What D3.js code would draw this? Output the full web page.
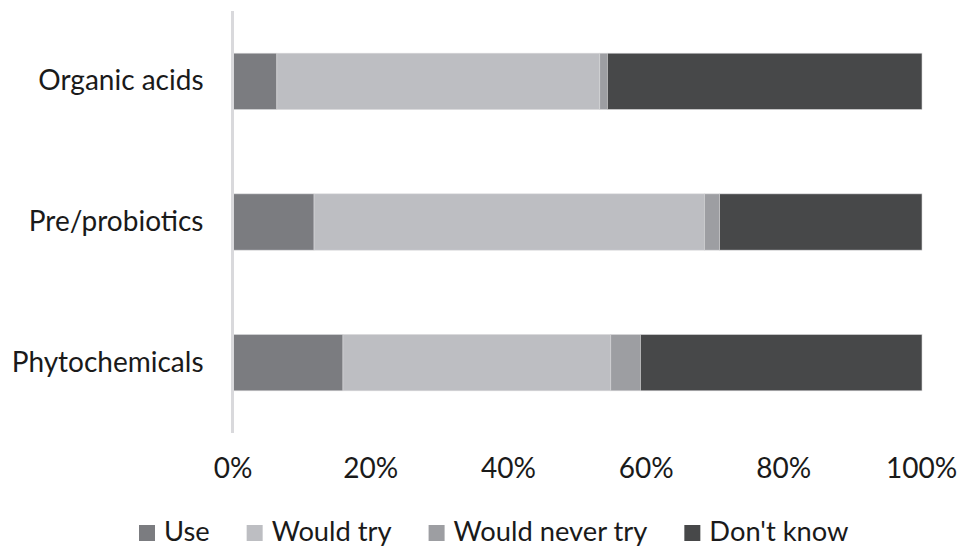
<!DOCTYPE html>
<html>
<head>
<meta charset="utf-8">
<script src="https://cdn.jsdelivr.net/npm/d3@7"></script>
<style>
  html, body { margin: 0; padding: 0; background: #fff; }
  svg { display: block; }
  text { font-family: Lato, "Open Sans", sans-serif; fill: #1a1a1a; }
</style>
</head>
<body>
<svg id="chart" width="957" height="547"></svg>
<script>
const categories = ["Organic acids", "Pre/probiotics", "Phytochemicals"];
const seriesNames = ["Use", "Would try", "Would never try", "Don't know"];
const useValues = [6.3, 11.7, 15.9];
const wouldTryValues = [46.9, 56.7, 38.9];
const wouldNeverTryValues = [1.1, 2.2, 4.3];
const dontKnowValues = [45.7, 29.4, 40.9];
const tickValues = [0, 20, 40, 60, 80, 100];
const colors = ["#7b7c80", "#bdbec2", "#9d9ea2", "#474849"];

const seriesValues = [useValues, wouldTryValues, wouldNeverTryValues, dontKnowValues];
const rows = categories.map((c, i) => {
  const r = { category: c };
  seriesNames.forEach((s, j) => { r[s] = seriesValues[j][i]; });
  return r;
});

const svg = d3.select("#chart");
const fontSize = 28;
const legendFontSize = 27.3;

const x = d3.scaleLinear().domain([0, 100]).range([233.5, 922]);
const y = d3.scaleBand().domain(categories).range([11, 433]).paddingInner(0.6).paddingOuter(0.3);
const color = d3.scaleOrdinal().domain(seriesNames).range(colors);

const stack = d3.stack().keys(seriesNames);
const stacked = stack(rows);

// bars
svg.append("g").selectAll("g")
  .data(stacked).join("g")
  .attr("fill", d => color(d.key))
  .selectAll("rect")
  .data(d => d).join("rect")
  .attr("x", d => x(d[0]))
  .attr("y", d => y(d.data.category))
  .attr("width", d => x(d[1]) - x(d[0]))
  .attr("height", y.bandwidth())
  .attr("stroke", "#d6d6d8")
  .attr("stroke-width", 0.6);

// vertical axis line
svg.append("line")
  .attr("x1", x(0) - 1).attr("x2", x(0) - 1)
  .attr("y1", 11).attr("y2", 433)
  .attr("stroke", "#d9d9dc").attr("stroke-width", 3);

// category labels
const yAxis = d3.axisLeft(y).tickSize(0).tickPadding(30);
const gy = svg.append("g").attr("transform", `translate(${x(0)},0)`).call(yAxis);
gy.select(".domain").remove();
gy.selectAll("text")
  .attr("font-size", fontSize)
  .attr("font-family", "Lato, sans-serif")
  .attr("fill", "#1a1a1a");

// x tick labels
const xAxis = d3.axisBottom(x).tickValues(tickValues).tickFormat(d => d + "%").tickSize(0).tickPadding(0);
const gx = svg.append("g").attr("transform", `translate(-1,458)`).call(xAxis);
gx.select(".domain").remove();
gx.selectAll("text")
  .attr("font-size", fontSize)
  .attr("font-family", "Lato, sans-serif")
  .attr("fill", "#1a1a1a");

// legend
const legend = svg.append("g");
const items = legend.selectAll("g").data(seriesNames).join("g");
items.append("rect")
  .attr("width", 16).attr("height", 16)
  .attr("y", 525)
  .attr("fill", d => color(d));
items.append("text")
  .attr("x", 25).attr("y", 541)
  .attr("font-size", legendFontSize)
  .text(d => d);
let cx = 139;
items.each(function() {
  const g = d3.select(this);
  g.attr("transform", `translate(${cx},0)`);
  const w = g.select("text").node().getComputedTextLength();
  cx += 25 + w + 37;
});
</script>
</body>
</html>
